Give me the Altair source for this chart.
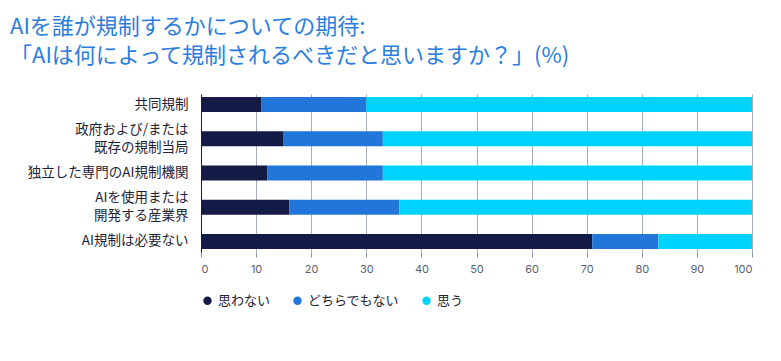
import altair as alt
import pandas as pd

categories = ["共同規制", "政府および/または|既存の規制当局", "独立した専門のAI規制機関", "AIを使用または|開発する産業界", "AI規制は必要ない"]
series = ["思わない", "どちらでもない", "思う"]
disagree = [11, 15, 12, 16, 71]
neutral = [19, 18, 21, 20, 12]
agree = [70, 67, 67, 64, 17]
colors = ["#121a45", "#2376d9", "#00d3fb"]

rows = []
for i, c in enumerate(categories):
    for j, (s, v) in enumerate(zip(series, [disagree[i], neutral[i], agree[i]])):
        rows.append({"category": c, "series": s, "value": v, "order": j})
df = pd.DataFrame(rows)

font = "Noto Sans CJK JP"

chart = alt.Chart(df).mark_bar(size=15).encode(
    x=alt.X("value:Q", stack="zero",
            scale=alt.Scale(domain=[0, 100], nice=False),
            axis=alt.Axis(title=None, values=list(range(0, 101, 10)), grid=True,
                          gridColor="#a9acbb", gridWidth=1, domain=False,
                          tickColor="#8e92a6", tickSize=5, labelFontSize=11,
                          labelColor="#5a5f75", labelFont="Inter", labelPadding=6)),
    y=alt.Y("category:N", sort=categories,
            scale=alt.Scale(paddingInner=0.56, paddingOuter=0.087),
            axis=alt.Axis(title=None, labelExpr="split(datum.label, '|')", ticks=False,
                          domain=True, domainColor="#121a45", labelFontSize=13.5,
                          labelColor="#1e2233", labelFont=font, labelPadding=13,
                          labelOffset={"condition": {"test": "indexof(datum.value, '|') >= 0", "value": -9},
                                       "value": 0},
                          minExtent=191, labelLimit=250, labelLineHeight=18)),
    color=alt.Color("series:N", sort=series,
                    scale=alt.Scale(domain=series, range=colors),
                    legend=alt.Legend(title=None, orient="bottom", direction="horizontal",
                                      symbolType="circle", symbolSize=70, labelFontSize=13,
                                      labelFont=font, labelColor="#1e2233", columnPadding=20,
                                      offset=20, symbolStrokeWidth=0)),
    order=alt.Order("order:Q"),
).properties(
    width=551,
    height=158,
    title=alt.TitleParams(
        text=["AIを誰が規制するかについての期待:", "「AIは何によって規制されるべきだと思いますか？」(%)"],
        anchor="start", frame="bounds", fontSize=22, fontWeight="normal", color="#2b7de0",
        font=font, lineHeight=29, offset=26),
    padding={"left": 2, "top": 8, "right": 5, "bottom": 5},
).configure_view(stroke=None)

chart.save("out.html", embed_options={"renderer": "svg", "actions": False})
